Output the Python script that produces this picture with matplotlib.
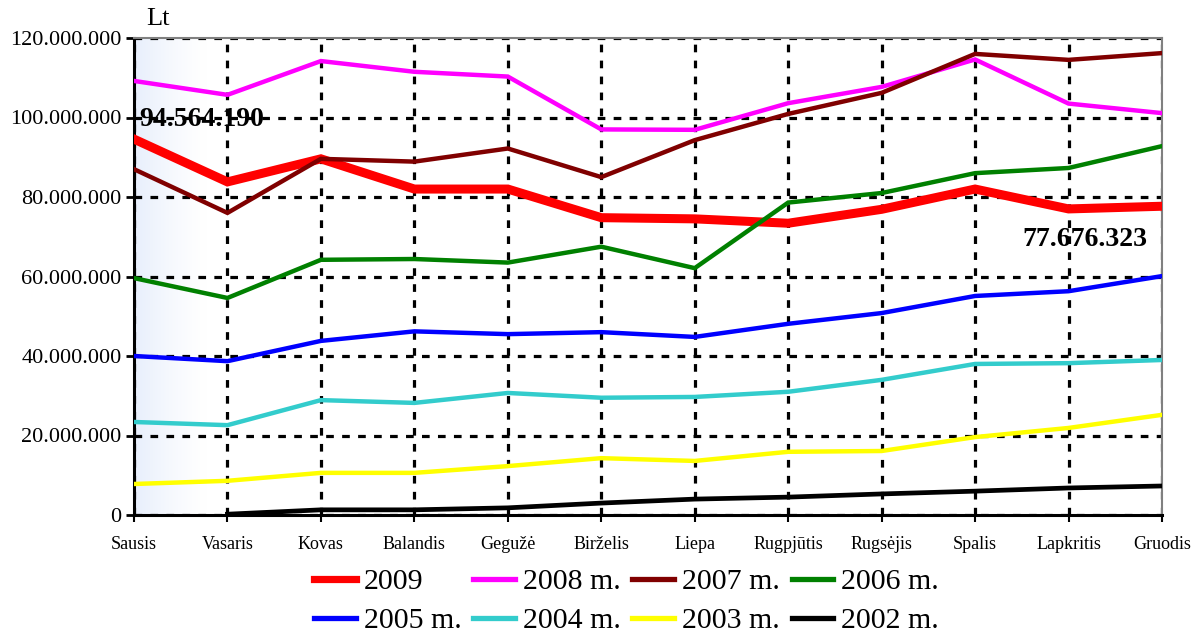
import numpy as np
import matplotlib
matplotlib.use("Agg")
import matplotlib.pyplot as plt
from matplotlib.colors import LinearSegmentedColormap
from matplotlib.ticker import FuncFormatter

months = ['Sausis', 'Vasaris', 'Kovas', 'Balandis', 'Gegužė', 'Birželis',
          'Liepa', 'Rugpjūtis', 'Rugsėjis', 'Spalis', 'Lapkritis', 'Gruodis']

# values in millions Lt
y2009 = [94.564190, 83.8, 89.6, 82.0, 82.0, 74.8, 74.5, 73.4, 76.9, 82.0, 77.0, 77.676323]
y2008 = [109.2, 105.7, 114.2, 111.5, 110.3, 97.0, 96.9, 103.6, 107.7, 114.6, 103.5, 101.1]
y2007 = [87.0, 76.0, 89.6, 88.9, 92.2, 85.0, 94.3, 100.9, 106.2, 116.0, 114.5, 116.2]
y2006 = [59.6, 54.6, 64.2, 64.4, 63.5, 67.5, 62.1, 78.6, 81.0, 86.0, 87.3, 92.8]
y2005 = [40.0, 38.7, 43.8, 46.2, 45.5, 46.0, 44.8, 48.1, 50.8, 55.1, 56.3, 60.1]
y2004 = [23.4, 22.6, 28.9, 28.2, 30.7, 29.5, 29.7, 31.0, 34.0, 38.0, 38.2, 39.0]
y2003 = [7.8, 8.6, 10.6, 10.6, 12.3, 14.3, 13.6, 15.9, 16.1, 19.6, 21.9, 25.2]
y2002 = [np.nan, 0.2, 1.3, 1.3, 1.8, 3.0, 4.0, 4.5, 5.3, 6.0, 6.8, 7.3]

labels = ['2009', '2008 m.', '2007 m.', '2006 m.', '2005 m.', '2004 m.', '2003 m.', '2002 m.']
colors = ['#ff0000', '#ff00ff', '#800000', '#008000', '#0000ff', '#33cccc', '#ffff00', '#000000']
widths = [6.5, 3.2, 3.2, 3.2, 3.2, 3.2, 3.2, 3.4]
series = [y2009, y2008, y2007, y2006, y2005, y2004, y2003, y2002]

plt.rcParams['font.family'] = ['Liberation Serif', 'DejaVu Serif']

fig = plt.figure(figsize=(11.91, 6.33), dpi=100)
ax = fig.add_axes([134 / 1191, 1 - 515 / 633, 1028 / 1191, 477 / 633])

# light blue fade on the left of the plot area
cmap = LinearSegmentedColormap.from_list('fade', ['#ffffff', '#e8effc'])
grad = np.clip(1 - np.linspace(0, 1, 400) / 0.07, 0, 1)[None, :] ** 1.3
ax.imshow(grad, cmap=cmap, vmin=0, vmax=1, aspect='auto', extent=[0, 1, 0, 1],
          transform=ax.transAxes, zorder=0, interpolation='bilinear')

x = np.arange(len(months))
handles = []
for vals, lab, col, lw in zip(series, labels, colors, widths):
    h, = ax.plot(x, np.array(vals) * 1e6, color=col, lw=lw, label=lab,
                 solid_joinstyle='miter', zorder=3)
    handles.append(h)

ax.set_xlim(0, 11)
ax.set_ylim(0, 120e6)
ax.set_yticks(np.arange(0, 120e6 + 1, 20e6))
ax.yaxis.set_major_formatter(FuncFormatter(lambda v, p: f'{int(v):,}'.replace(',', '.')))
ax.set_xticks(x)
ax.set_xticklabels(months, fontsize=13)
ax.tick_params(axis='y', labelsize=16, length=6, width=2, direction='out', pad=3)
ax.tick_params(axis='x', length=5, width=1.5, direction='out', pad=10)

ax.grid(True, color='black', linestyle=(0, (2.4, 2.6)), linewidth=2.3, zorder=1)
ax.set_axisbelow(True)

for side in ['top', 'right']:
    ax.spines[side].set_color('#808080')
    ax.spines[side].set_linewidth(1.5)
for side in ['left', 'bottom']:
    ax.spines[side].set_color('black')
    ax.spines[side].set_linewidth(2.2)

fig.text(146 / 1191, 1 - 19 / 633, 'Lt', fontsize=19, ha='left', va='center')

ax.text(0.06, 99.4e6, '94.564.190', fontsize=20, fontweight='bold',
        ha='left', va='center', zorder=5)
ax.text(10.17, 69.2e6, '77.676.323', fontsize=20, fontweight='bold',
        ha='center', va='center', zorder=5)

# legend filled row by row, 4 per row
order = [0, 4, 1, 5, 2, 6, 3, 7]
leg = fig.legend([handles[i] for i in order], [labels[i] for i in order],
                 loc='center', bbox_to_anchor=(0.526, 0.05), ncol=4, frameon=False,
                 fontsize=21.5, handlelength=1.4, handletextpad=0.25, columnspacing=0.4,
                 labelspacing=0.4, borderpad=0)
for line in leg.get_lines():
    line.set_linewidth(5.2 if line.get_color() == '#ff0000' else 3.8)

fig.savefig('out.png', dpi=100)
